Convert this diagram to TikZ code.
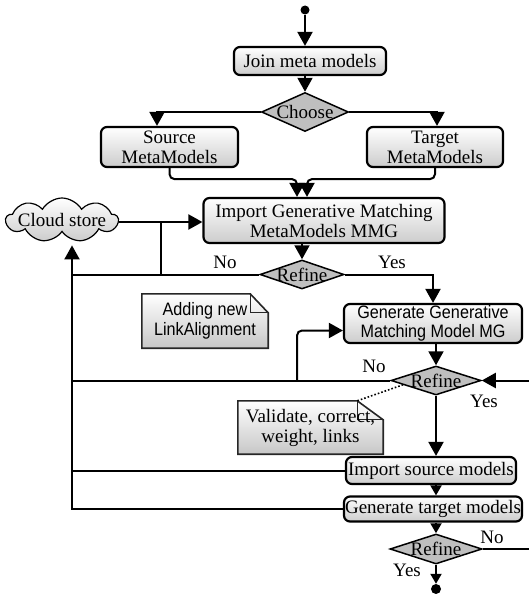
\documentclass[tikz,border=0pt]{standalone}
\usepackage{fontspec}
\setmainfont{Liberation Serif}
\newfontfamily\narrowsans[FakeStretch=0.9]{Liberation Sans}
\usetikzlibrary{arrows.meta,shapes.geometric,shapes.symbols,backgrounds,calc}

\tikzset{
  base/.style={font=\fontsize{19}{20}\selectfont},
  procbox/.style={base, draw, line width=2.2pt, rounded corners=6pt,
    top color=white, bottom color=black!20, inner sep=0pt, align=center},
  decision/.style={base, diamond, draw, line width=1.5pt, fill=black!25,
    inner xsep=-20pt, inner ysep=-10pt},
  cloudnode/.style={base, cloud, cloud puffs=9, cloud puff arc=120,
    cloud ignores aspect, draw, line width=1.2pt, top color=white,
    bottom color=black!20, inner xsep=-25pt, inner ysep=-6pt},
  notebox/.style={base, inner sep=0pt, align=center},
  notefill/.style={top color=white, bottom color=black!22},
  noteline/.style={draw=black!85, line width=1.6pt, line join=miter},
  dot/.style={circle, fill=black, inner sep=0pt, minimum size=9pt},
  lbl/.style={base, inner sep=0pt},
  conn/.style={line width=2pt},
  arr/.style={conn, -{Triangle[width=15pt,length=14pt]}},
  arrs/.style={conn, -{Triangle[width=11pt,length=10pt]}},
}

\begin{document}
\begin{tikzpicture}[x=1pt,y=-1pt]
\useasboundingbox (0,0) rectangle (528,594);

% nodes of the flow
\node[dot] (start) at (305,10) {};
\node[procbox, minimum width=152pt, minimum height=28pt] (join) at (310,61) {Join meta models};
\node[decision, minimum width=87pt, minimum height=39pt] (choose) at (305,112) {Choose};
\node[procbox, minimum width=137pt, minimum height=40pt] (src) at (169.5,147) {Source\\MetaModels};
\node[procbox, minimum width=136pt, minimum height=40pt] (tgt) at (435,147) {Target\\MetaModels};
\node[procbox, minimum width=241pt, minimum height=45pt] (mmg) at (324,220.5) {Import Generative Matching\\MetaModels MMG};
\node[cloudnode, minimum width=112pt, minimum height=44pt] (cloud) at (62,220) {Cloud store};
\node[decision, minimum width=84pt, minimum height=29pt] (ref1) at (302,274.5) {Refine};
\node[procbox, font=\narrowsans\fontsize{18}{19.5}\selectfont, minimum width=178pt, minimum height=39pt] (mg) at (433,323.5) {Generate Generative\\Matching Model MG};
\node[decision, minimum width=90pt, minimum height=29pt] (ref2) at (436,380.5) {Refine};
\node[notebox, font=\narrowsans\fontsize{18}{20}\selectfont, minimum width=126pt, minimum height=54pt] (note1) at (205,321) {Adding new\\LinkAlignment};
\node[notebox, minimum width=145pt, minimum height=53pt] (note2) at (310.5,427.5) {Validate, correct,\\weight, links};
\node[procbox, minimum width=170pt, minimum height=27pt] (isrc) at (431,470.5) {Import source models};
\node[procbox, minimum width=178pt, minimum height=25pt] (gtgt) at (433,509) {Generate target models};
\node[decision, minimum width=92pt, minimum height=30pt] (ref3) at (436,549) {Refine};
\node[dot, minimum size=10pt] (stop) at (436,589) {};

% branch labels
\node[lbl] (no1) at (225,262) {No};
\node[lbl] (yes1) at (392,262) {Yes};
\node[lbl] (no2) at (374,366) {No};
\node[lbl] (yes2) at (484,401) {Yes};
\node[lbl] (no3) at (492,537) {No};
\node[lbl] (yes3) at (407,570) {Yes};

% folded-corner notes
\begin{scope}[on background layer]
\foreach \n/\f in {note1/18, note2/26} {
  \shade[notefill] (\n.north west) -- ([xshift=-\f pt]\n.north east)
    -- ([yshift=-19pt]\n.north east) -- (\n.south east) -- (\n.south west) -- cycle;
  \draw[noteline] (\n.north west) -- ([xshift=-\f pt]\n.north east)
    -- ([yshift=-19pt]\n.north east) -- (\n.south east) -- (\n.south west) -- cycle;
  \draw[noteline, line width=1.2pt] ([xshift=-\f pt]\n.north east)
    -- ([xshift=-\f pt, yshift=-19pt]\n.north east) -- ([yshift=-19pt]\n.north east);
}
\end{scope}

% connectors
\coordinate (bus) at (72,0);
\coordinate (rr) at (540,0);

\draw[arr] (start) -- (start |- join.north);
\draw[arr] (join.south -| choose.north) -- (choose.north);
\draw[arr] (choose.west) -| ([xshift=-12.5pt]src.north);
\draw[arr] (choose.east) -| ([xshift=2pt]tgt.north);
\draw[arr, rounded corners=5pt] (src.south) -- ++(0,11) -| ([xshift=-27pt]mmg.north);
\draw[arr, rounded corners=5pt] (tgt.south) -- ++(0,11) -| ([xshift=-17pt]mmg.north);
\draw[arr] ([yshift=-2pt]cloud.east) -- ([yshift=-2pt]cloud.east -| mmg.west);
\draw[conn] ([yshift=-2pt]cloud.east -| 161,0) -- (ref1.west -| 161,0);
\draw[arr] (mmg.south -| ref1.north) -- (ref1.north);
\draw[conn] (ref1.west) -- (ref1.west -| bus);
\draw[arr] (ref1.east) -| (mg.north);
\draw[arr] (mg.south -| ref2.north) -- (ref2.north);
\draw[conn] (ref2.west) -- (ref2.west -| bus);
\draw[arr, rounded corners=5pt] (ref2.west -| 297,0) |- ([yshift=-7pt]mg.west);
\draw[dotted, line width=1.6pt] ($(ref2.west)!0.28!(ref2.south)$) -- ([xshift=-26pt]note2.north east);
\draw[arr] (ref2.south) -- (ref2.south |- isrc.north);
\draw[conn] (isrc.west) -- (isrc.west -| bus);
\draw[arrs] (isrc.south -| ref2.south) -- (gtgt.north -| ref2.south);
\draw[arr, shorten >=10pt] (gtgt.west) -| ([yshift=-3pt]cloud.south -| bus);
\draw[arrs] (gtgt.south -| ref3.north) -- (ref3.north);
\draw[arr] (ref3.east) -- (ref3.east -| rr) -- (ref2.east -| rr) -- (ref2.east);
\draw[arrs] (ref3.south) -- (stop.north);
\end{tikzpicture}
\end{document}
